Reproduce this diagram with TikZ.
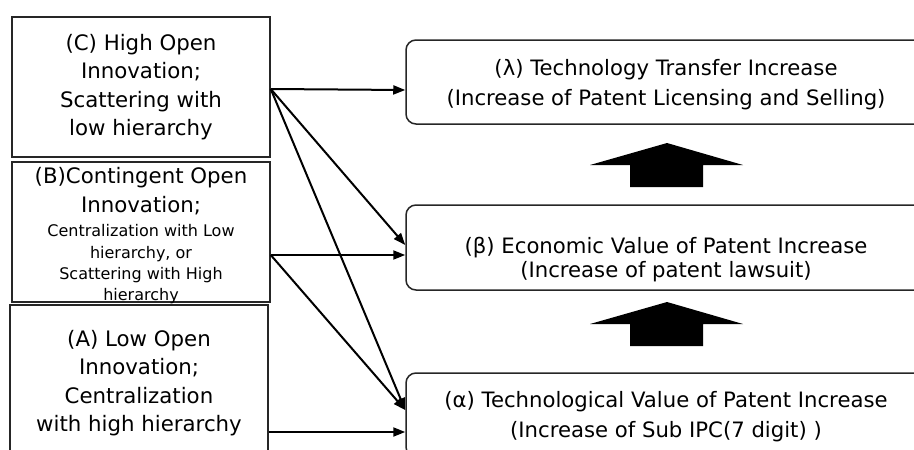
\documentclass[tikz,border=0pt]{standalone}
\usepackage{fontspec}
\setmainfont{DejaVu Sans}
\usetikzlibrary{arrows.meta}
\tikzset{
cause/.style={ % boxes on the left
draw=black!85,
line width=1.5pt,
fill=white,
align=center,
inner sep=0pt,
minimum width=258pt,
font=\fontsize{21.3}{28.5}\selectfont},
effect/.style={ % rounded boxes on the right
draw=black!85,
line width=1.5pt,
rounded corners=10pt,
align=center,
inner sep=0pt,
minimum width=520pt,
minimum height=84pt,
font=\fontsize{21.2}{30}\selectfont},
every edge/.style={ % thin arrows
draw,
line width=2pt,
-{Triangle[length=12pt,width=9pt]}},
blockup/.pic={ % big black arrow
\fill (-77,0) -- (0,-22) -- (76,0) -- (36,0) -- (36,22) -- (-37,22) -- (-37,0) -- cycle;}}

\begin{document}
\begin{tikzpicture}[x=1pt,y=-1pt]
	\useasboundingbox (0,0) rectangle (914,450);
	\node[effect] (lam) at (666,82) {\rule{0pt}{22pt}(λ) Technology Transfer Increase\\(Increase of Patent Licensing and Selling)};
	\node[effect, minimum height=85pt, font=\fontsize{21.2}{23.5}\selectfont] (beta) at (666,247.5) {\rule{0pt}{40pt}(β) Economic Value of Patent Increase\\(Increase of patent lawsuit)};
	\node[effect] (alp) at (666,415) {\rule{0pt}{19pt}(α) Technological Value of Patent Increase\\(Increase of Sub IPC(7 digit) )};
	\node[cause, minimum height=140pt] (C) at (141,87) {(C) High Open\\Innovation;\\Scattering with\\low hierarchy};
	\node[cause, minimum height=140pt] (B) at (141,232) {\raisebox{-9pt}[0pt][0pt]{\parbox{258pt}{\centering\fontsize{21.3}{29}\selectfont (B)Contingent Open\\Innovation;\par\vspace{3pt}\fontsize{16}{21.3}\selectfont Centralization with Low\\hierarchy, or\\Scattering with High\\hierarchy\par}}};
	\node[cause, minimum height=156pt] (A) at (139,383) {(A) Low Open\\Innovation;\\Centralization\\with high hierarchy};
	\draw ([yshift=-2pt]C.east) edge ([yshift=-8pt]lam.west);
	\draw ([yshift=-2pt]C.east) edge ([yshift=2.5pt]beta.west);
	\draw ([yshift=-2pt]C.east) edge ([yshift=5pt]alp.west);
	\draw ([yshift=-23pt]B.east) edge ([yshift=-7.5pt]beta.west);
	\draw ([yshift=-23pt]B.east) edge ([yshift=5pt]alp.west);
	\draw ([yshift=-49pt]A.east) edge ([yshift=-17pt]alp.west);
	\pic at (667,165) {blockup};
	\pic at (667,324) {blockup};
\end{tikzpicture}
\end{document}
